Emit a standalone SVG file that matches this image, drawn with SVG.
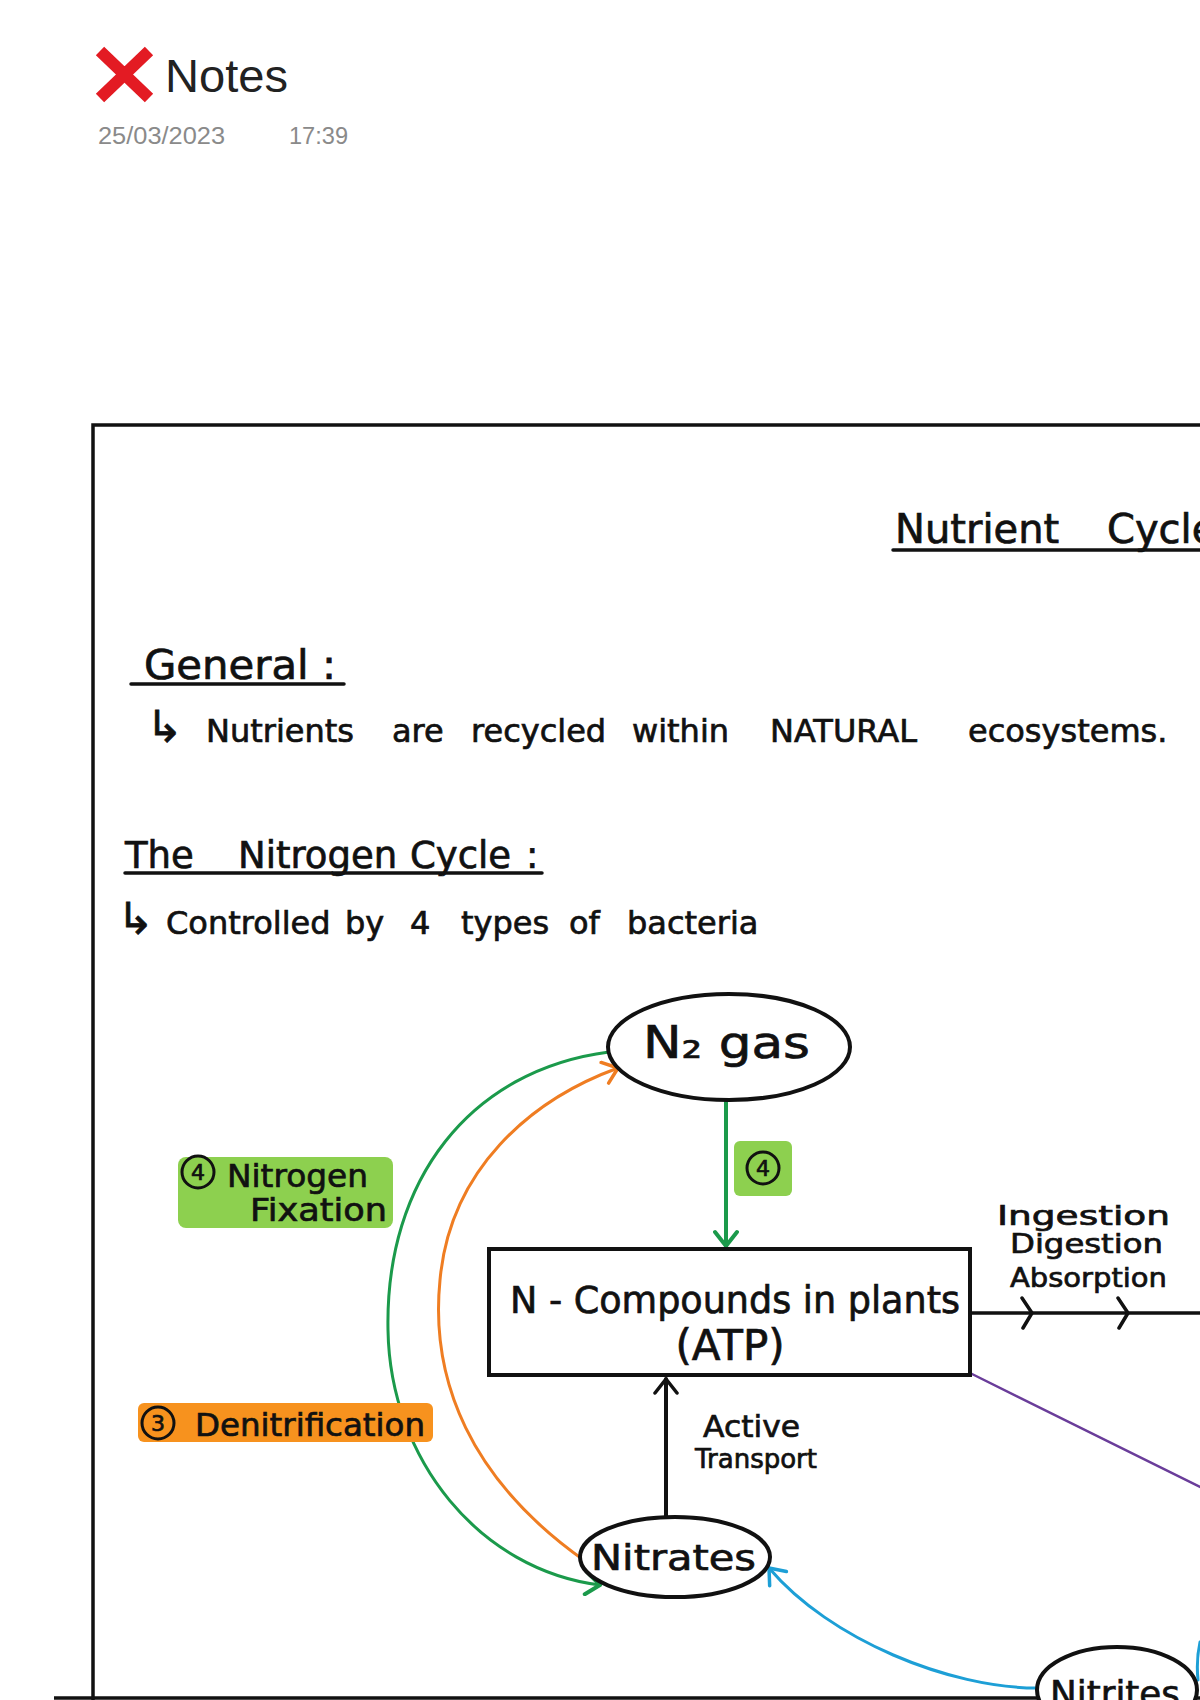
<svg xmlns="http://www.w3.org/2000/svg" width="1200" height="1700" viewBox="0 0 1200 1700">
<style>
.hw{font-family:"DejaVu Sans","Noto Sans",sans-serif;fill:#111;stroke:#111;stroke-width:0.7}
.ui{font-family:"Liberation Sans","Open Sans",sans-serif}
.ol{fill:#fff;stroke:#111;stroke-width:4}
.cn{fill:none;stroke-linecap:round;stroke-linejoin:round}
.ul{stroke:#111;stroke-width:3.5;stroke-linecap:round}
.num{fill:none;stroke:#111;stroke-width:3}
.hlg{fill:#8dd04f}
.hlo{fill:#f7921e}
.arr{font-size:44px}
</style>
<defs>
<marker id="ah-k" viewBox="0 0 20 26" refX="17" refY="13" markerWidth="20" markerHeight="26" markerUnits="userSpaceOnUse" orient="auto"><path d="M3 2 L17 13 L3 24" fill="none" stroke="#111" stroke-width="3.5" stroke-linecap="round" stroke-linejoin="round"/></marker>
<marker id="ah-g" viewBox="0 0 20 26" refX="17" refY="13" markerWidth="20" markerHeight="26" markerUnits="userSpaceOnUse" orient="auto"><path d="M3 2 L17 13 L3 24" fill="none" stroke="#1b9a4b" stroke-width="4" stroke-linecap="round" stroke-linejoin="round"/></marker>
<marker id="ah-o" viewBox="0 0 20 26" refX="17" refY="13" markerWidth="20" markerHeight="26" markerUnits="userSpaceOnUse" orient="auto"><path d="M3 2 L17 13 L3 24" fill="none" stroke="#ef7d22" stroke-width="3.5" stroke-linecap="round" stroke-linejoin="round"/></marker>
<marker id="ah-b" viewBox="0 0 20 26" refX="17" refY="13" markerWidth="20" markerHeight="26" markerUnits="userSpaceOnUse" orient="auto"><path d="M3 2 L17 13 L3 24" fill="none" stroke="#1d9fd6" stroke-width="3.5" stroke-linecap="round" stroke-linejoin="round"/></marker>
<marker id="chev" viewBox="0 0 16 34" refX="12" refY="17" markerWidth="16" markerHeight="34" markerUnits="userSpaceOnUse" orient="auto"><path d="M2 2 L12 17 L3 32" fill="none" stroke="#111" stroke-width="3.5" stroke-linecap="round" stroke-linejoin="round"/></marker>
</defs>
<rect width="1200" height="1700" fill="#fff"/>

<g id="header">
<path d="M100 51 L149 98 M149 51 L100 98" stroke="#e31b23" stroke-width="12" fill="none"/>
<text class="ui" x="165" y="92" font-size="47" fill="#222" textLength="123" lengthAdjust="spacingAndGlyphs">Notes</text>
<text class="ui" x="98" y="144" font-size="23" fill="#8a8a8a" textLength="127" lengthAdjust="spacingAndGlyphs">25/03/2023</text>
<text class="ui" x="289" y="144" font-size="23" fill="#8a8a8a" textLength="59" lengthAdjust="spacingAndGlyphs">17:39</text>
</g>

<g id="frame" fill="none" stroke="#111" stroke-width="3.5">
<path d="M93 1700 V425 H1200"/>
<path d="M54 1698 H1200"/>
</g>

<g id="page-text">
<text class="hw" font-size="40" y="543"><tspan x="895">Nutrient </tspan><tspan x="1107">Cycle</tspan></text>
<line class="ul" x1="893" y1="550" x2="1200" y2="550"/>
<text class="hw" font-size="40" x="144" y="679" textLength="192" lengthAdjust="spacingAndGlyphs">General :</text>
<line class="ul" x1="131" y1="684" x2="344" y2="684"/>
<text class="hw" font-size="32" y="742"><tspan x="146" class="arr">↳ </tspan><tspan x="206">Nutrients </tspan><tspan x="392">are </tspan><tspan x="471">recycled </tspan><tspan x="632">within </tspan><tspan x="770">NATURAL </tspan><tspan x="968">ecosystems.</tspan></text>
<text class="hw" font-size="37" y="868"><tspan x="125">The </tspan><tspan x="238">Nitrogen </tspan><tspan x="410">Cycle </tspan><tspan x="526">:</tspan></text>
<line class="ul" x1="125" y1="873" x2="542" y2="873"/>
<text class="hw" font-size="32" y="934"><tspan x="117" class="arr">↳ </tspan><tspan x="166">Controlled </tspan><tspan x="345">by </tspan><tspan x="410">4 </tspan><tspan x="461">types </tspan><tspan x="569">of </tspan><tspan x="627">bacteria</tspan></text>
</g>

<g id="connectors">
<path class="cn" d="M609 1052 C470 1070 385 1180 388 1330 C390 1460 480 1570 600 1585" stroke="#1b9a4b" stroke-width="3" marker-end="url(#ah-g)"/>
<path class="cn" d="M585 1561 C470 1480 430 1380 440 1280 C450 1170 530 1100 618 1068" stroke="#ef7d22" stroke-width="3" marker-end="url(#ah-o)"/>
<path class="cn" d="M726 1101 V1246" stroke="#1b9a4b" stroke-width="4" marker-end="url(#ah-g)"/>
<path class="cn" d="M666 1516 V1379" stroke="#111" stroke-width="4" marker-end="url(#ah-k)"/>
<path class="cn" d="M970 1313 H1032 H1128 H1200" stroke="#111" stroke-width="3.5" marker-mid="url(#chev)"/>
<path class="cn" d="M970 1373 L1200 1487" stroke="#6a3d9a" stroke-width="2.5"/>
<path class="cn" d="M1037 1688 C950 1688 830 1640 769 1568" stroke="#1d9fd6" stroke-width="3" marker-end="url(#ah-b)"/>
<path class="cn" d="M1200 1642 Q1196 1660 1198 1680" stroke="#1d9fd6" stroke-width="3"/>
</g>

<g id="node-n2">
<ellipse class="ol" cx="729" cy="1047" rx="121" ry="53"/>
<text class="hw" font-size="44" x="643" y="1058" textLength="167" lengthAdjust="spacingAndGlyphs">N₂ gas</text>
</g>

<g id="node-plants">
<rect class="ol" x="489" y="1249" width="481" height="126"/>
<text class="hw" font-size="37" x="510" y="1313" textLength="450" lengthAdjust="spacingAndGlyphs">N - Compounds in plants</text>
<text class="hw" font-size="42" x="730" y="1360" text-anchor="middle">(ATP)</text>
</g>

<g id="node-nitrates">
<ellipse class="ol" cx="675" cy="1557" rx="95" ry="40"/>
<text class="hw" font-size="36" x="591" y="1570" textLength="165" lengthAdjust="spacingAndGlyphs">Nitrates</text>
</g>

<g id="node-nitrites">
<ellipse class="ol" cx="1117" cy="1690" rx="80" ry="43"/>
<text class="hw" font-size="36" x="1050" y="1706" textLength="130" lengthAdjust="spacingAndGlyphs">Nitrites</text>
</g>

<g id="label-4-arrow">
<rect class="hlg" x="734" y="1141" width="58" height="55" rx="6"/>
<circle class="num" cx="763" cy="1168" r="16"/>
<text class="hw" font-size="22" x="763" y="1176" text-anchor="middle">4</text>
</g>

<g id="label-fixation">
<rect class="hlg" x="178" y="1157" width="215" height="71" rx="8"/>
<circle class="num" cx="198" cy="1172" r="16"/>
<text class="hw" font-size="22" x="198" y="1180" text-anchor="middle">4</text>
<text class="hw" font-size="32" x="227" y="1187" textLength="141" lengthAdjust="spacingAndGlyphs">Nitrogen</text>
<text class="hw" font-size="32" x="250" y="1221" textLength="137" lengthAdjust="spacingAndGlyphs">Fixation</text>
</g>

<g id="label-denitrification">
<rect class="hlo" x="138" y="1403" width="295" height="39" rx="6"/>
<circle class="num" cx="158" cy="1423" r="16"/>
<text class="hw" font-size="22" x="158" y="1431" text-anchor="middle">3</text>
<text class="hw" font-size="32" x="195" y="1436" textLength="230" lengthAdjust="spacingAndGlyphs">Denitrification</text>
</g>

<g id="label-ingestion">
<text class="hw" font-size="27" x="997" y="1225" textLength="173" lengthAdjust="spacingAndGlyphs">Ingestion</text>
<text class="hw" font-size="27" x="1010" y="1253" textLength="153" lengthAdjust="spacingAndGlyphs">Digestion</text>
<text class="hw" font-size="27" x="1010" y="1287" textLength="157" lengthAdjust="spacingAndGlyphs">Absorption</text>
</g>

<g id="label-active">
<text class="hw" font-size="31" x="703" y="1437" textLength="97" lengthAdjust="spacingAndGlyphs">Active</text>
<text class="hw" font-size="26" x="695" y="1468" textLength="122" lengthAdjust="spacingAndGlyphs">Transport</text>
</g>
</svg>
